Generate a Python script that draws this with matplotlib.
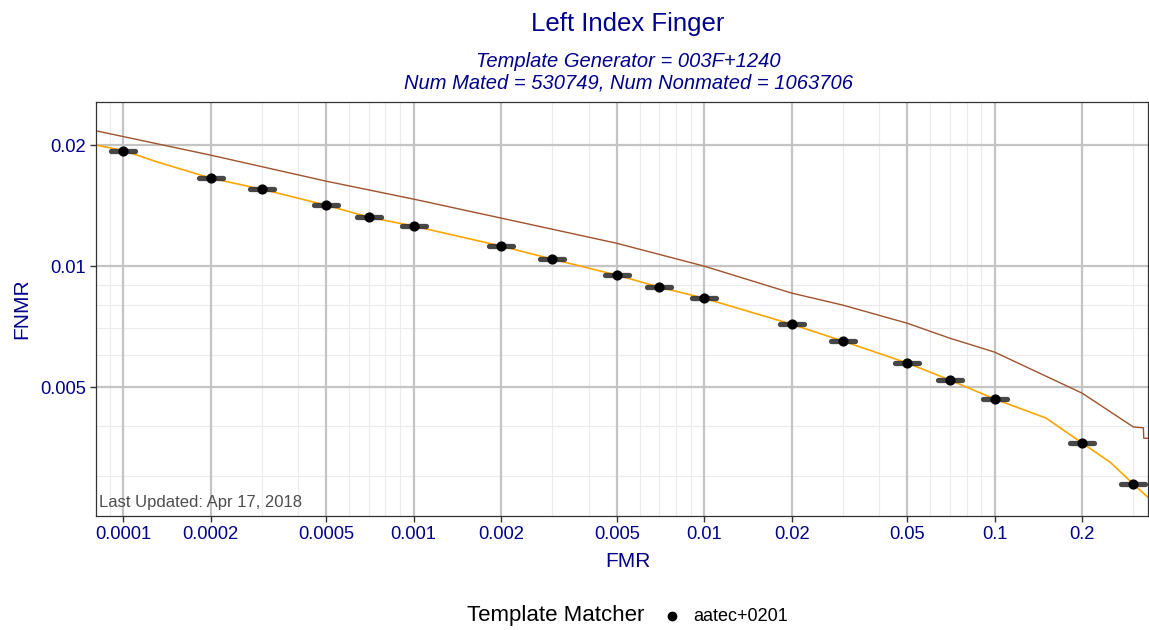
"""Left Index Finger DET plot (FNMR vs FMR, log-log)."""
import matplotlib
matplotlib.use("Agg")
import matplotlib.pyplot as plt
from matplotlib.ticker import FixedLocator, NullFormatter

plt.rcParams["font.family"] = ["Liberation Sans", "DejaVu Sans"]

NAVY = "#00008B"

# operating points (FMR, FNMR)
fmr_pts = [0.0001, 0.0002, 0.0003, 0.0005, 0.0007, 0.001, 0.002, 0.003,
           0.005, 0.007, 0.01, 0.02, 0.03, 0.05, 0.07, 0.1, 0.2, 0.3]
fnmr_pts = [0.0193, 0.01656, 0.01554, 0.01418, 0.01324, 0.01258, 0.01122, 0.01041,
            0.0095, 0.00887, 0.00832, 0.00717, 0.00651, 0.00574, 0.00521, 0.00467,
            0.00363, 0.00287]

# orange DET curve
fmr_curve = [8.1e-5, 0.0001, 0.00013, 0.0002, 0.0003, 0.0005, 0.0007, 0.001,
             0.002, 0.003, 0.005, 0.007, 0.01, 0.02, 0.03, 0.05, 0.07, 0.1,
             0.15, 0.2, 0.25, 0.3, 0.337]
fnmr_curve = [0.0200, 0.0194, 0.0182, 0.01656, 0.01554, 0.01418, 0.01324, 0.01258,
              0.01122, 0.01041, 0.0095, 0.00887, 0.00832, 0.00717, 0.00651, 0.00574,
              0.00521, 0.00467, 0.00419, 0.00363, 0.00325, 0.00287, 0.00266]

# brown reference curve
fmr_ref = [8.1e-5, 0.0002, 0.0005, 0.001, 0.002, 0.005, 0.01, 0.02, 0.03,
           0.05, 0.07, 0.1, 0.2, 0.3, 0.325, 0.326, 0.337]
fnmr_ref = [0.0217, 0.01889, 0.01627, 0.01468, 0.01317, 0.0114, 0.0100, 0.00857,
            0.0080, 0.00721, 0.00662, 0.00611, 0.00483, 0.00398, 0.00396, 0.00373,
            0.00373]

x_major = [0.0001, 0.0002, 0.0005, 0.001, 0.002, 0.005, 0.01, 0.02, 0.05, 0.1, 0.2]
x_labels = ["0.0001", "0.0002", "0.0005", "0.001", "0.002", "0.005", "0.01",
            "0.02", "0.05", "0.1", "0.2"]
y_major = [0.005, 0.01, 0.02]
y_labels = ["0.005", "0.01", "0.02"]

fig = plt.figure(figsize=(11.49, 6.30), dpi=100)
ax = fig.add_axes([0.0836, 0.181, 0.9155, 0.657])
ax.set_xscale("log")
ax.set_yscale("log")
ax.set_xlim(8.07e-5, 0.337)
ax.set_ylim(0.00239, 0.0256)

# grid
x_minor = [k * 10.0 ** e for e in range(-5, 0) for k in range(1, 10)]
x_minor = [v for v in x_minor if 8e-5 < v < 0.34 and all(abs(v - m) / m > 1e-6 for m in x_major)]
y_minor = [k * 1e-3 for k in range(3, 10) if k != 5]
for v in x_minor:
    ax.axvline(v, color="#EBEBEB", lw=0.8, zorder=0)
for v in y_minor:
    ax.axhline(v, color="#EBEBEB", lw=0.8, zorder=0)
for v in x_major:
    ax.axvline(v, color="#C4C4C4", lw=1.6, zorder=0.5)
for v in y_major:
    ax.axhline(v, color="#C4C4C4", lw=1.6, zorder=0.5)

ax.plot(fmr_ref, fnmr_ref, color="#A0522D", lw=1.0, zorder=2)
ax.plot(fmr_curve, fnmr_curve, color="#FFA500", lw=1.2, zorder=2)

lo = [x - x / 1.1 for x in fmr_pts]
hi = [x * 1.1 - x for x in fmr_pts]
eb = ax.errorbar(fmr_pts, fnmr_pts, xerr=[lo, hi], fmt="none", ecolor="#333333",
                 elinewidth=3.8, alpha=0.9, capsize=0, zorder=3)
for coll in eb[2]:
    coll.set_capstyle("round")
ax.scatter(fmr_pts, fnmr_pts, s=40, color="black", zorder=4)

ax.xaxis.set_major_locator(FixedLocator(x_major))
ax.set_xticklabels(x_labels)
ax.xaxis.set_minor_formatter(NullFormatter())
ax.yaxis.set_major_locator(FixedLocator(y_major))
ax.set_yticklabels(y_labels)
ax.yaxis.set_minor_formatter(NullFormatter())
ax.tick_params(which="minor", length=0)
ax.tick_params(which="major", length=4, width=1, color="#333333",
               labelcolor=NAVY, labelsize=13.2)
for s in ax.spines.values():
    s.set_color("#333333")
    s.set_linewidth(0.9)

ax.set_xlabel("FMR", color=NAVY, fontsize=15, labelpad=3)
ax.xaxis.set_label_coords(0.5057, -0.088)
ax.set_ylabel("FNMR", color=NAVY, fontsize=15, labelpad=6)

ax.text(0.003, 0.015, "Last Updated: Apr 17, 2018", transform=ax.transAxes,
        color="#4D4D4D", fontsize=12, ha="left", va="bottom")

cx = 0.5466
fig.text(cx, 0.962, "Left Index Finger", color=NAVY, fontsize=18.5,
         ha="center", va="center")
fig.text(cx, 0.903, "Template Generator = 003F+1240", color=NAVY, fontsize=14.5,
         style="italic", ha="center", va="center")
fig.text(cx, 0.868, "Num Mated = 530749, Num Nonmated = 1063706", color=NAVY,
         fontsize=14.5, style="italic", ha="center", va="center")

# legend at bottom
fig.text(0.561, 0.006, "Template Matcher", color="black", fontsize=16,
         ha="right", va="bottom")
fig.lines.append(plt.Line2D([0.585], [0.022], marker="o", markersize=6,
                            color="black", transform=fig.transFigure))
fig.text(0.603, 0.022, "aatec+0201", color="black", fontsize=13,
         ha="left", va="center")

fig.savefig("out.png", dpi=100)
